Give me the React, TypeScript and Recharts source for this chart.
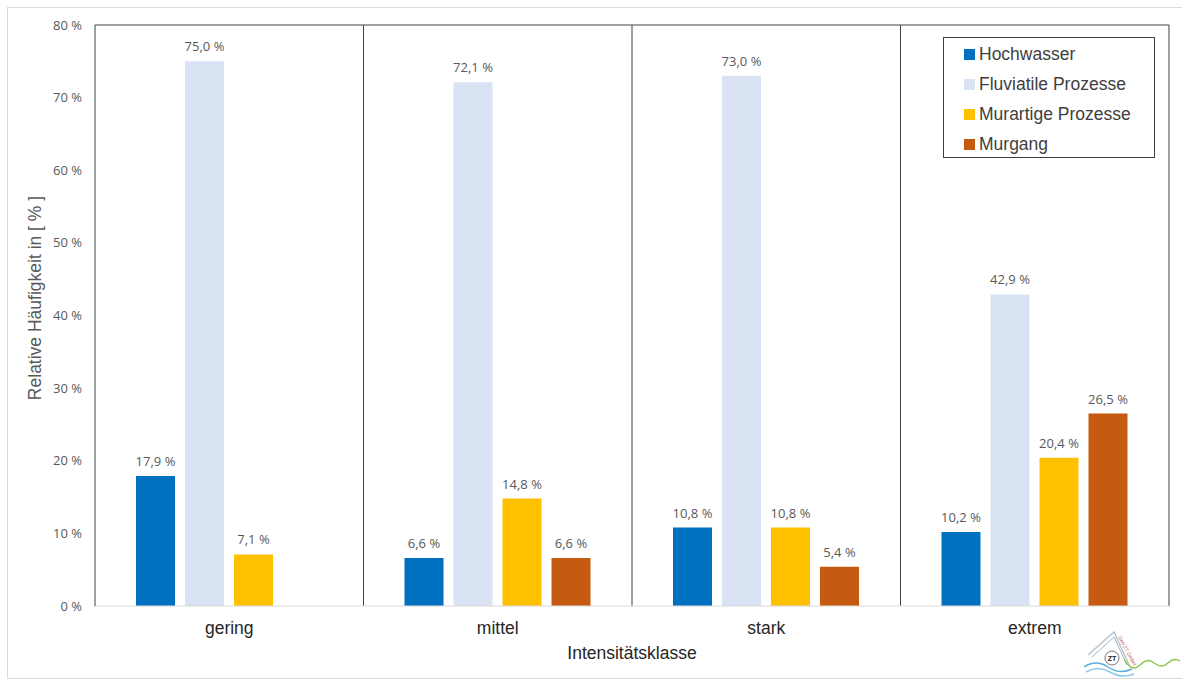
import React from 'react';
import {
  BarChart,
  Bar,
  XAxis,
  YAxis,
  Legend,
  LabelList,
  ReferenceLine,
} from 'recharts';

const categories = ['gering', 'mittel', 'stark', 'extrem'];
const hochwasser = [17.9, 6.6, 10.8, 10.2];
const fluviatil = [75.0, 72.1, 73.0, 42.9];
const murartig = [7.1, 14.8, 10.8, 20.4];
const murgang: (number | null)[] = [null, 6.6, 5.4, 26.5];
const yTicks = [0, 10, 20, 30, 40, 50, 60, 70, 80];

const series = [
  { key: 'hochwasser', name: 'Hochwasser', color: '#0070C0' },
  { key: 'fluviatil', name: 'Fluviatile Prozesse', color: '#DAE3F3' },
  { key: 'murartig', name: 'Murartige Prozesse', color: '#FFC000' },
  { key: 'murgang', name: 'Murgang', color: '#C55A11' },
];

const data = categories.map((name, i) => ({
  name,
  hochwasser: hochwasser[i],
  fluviatil: fluviatil[i],
  murartig: murartig[i],
  murgang: murgang[i],
}));

const DARK = '#404040';
const TICK_FONT = '"Open Sans", Calibri, sans-serif';
const TEXT_FONT = '"Liberation Sans", Arial, sans-serif';

const fmt = (v: any) =>
  v === null || v === undefined ? '' : Number(v).toFixed(1).replace('.', ',') + ' %';

// value label drawn as plain svg text so it does not wrap to the bar width
const renderValue = (props: any) => {
  const { x, y, width, value } = props;
  if (value === null || value === undefined) return null;
  return (
    <text
      x={Number(x) + Number(width) / 2}
      y={Number(y) - 10}
      textAnchor="middle"
      fill="#595959"
      fontSize={13}
      fontFamily={TICK_FONT}
    >
      {fmt(value)}
    </text>
  );
};

const renderLegend = () => (
  <div
    style={{
      position: 'relative',
      width: 212,
      height: 121,
      boxSizing: 'border-box',
      border: `1px solid ${DARK}`,
      background: '#fff',
      fontFamily: TEXT_FONT,
      fontSize: 17.5,
      color: '#404040',
    }}
  >
    {series.map((s, i) => (
      <div
        key={s.key}
        style={{
          position: 'absolute',
          left: 20,
          top: 1 + i * 30,
          height: 30,
          display: 'flex',
          alignItems: 'center',
          whiteSpace: 'nowrap',
        }}
      >
        <span style={{ width: 11, height: 11, background: s.color, marginRight: 4, display: 'inline-block' }} />
        <span>{s.name}</span>
      </div>
    ))}
  </div>
);

const Logo = () => (
  <svg width={102} height={54} style={{ position: 'absolute', left: 1080, top: 625 }}>
    <path d="M8 30 L34 7 L50 42" fill="none" stroke="#b8c4cc" strokeWidth={1.5} />
    <path d="M12 32 L34 12 L47 40" fill="none" stroke="#9fb5c8" strokeWidth={1} />
    <path d="M4 42 Q16 34 28 42 T52 44" fill="none" stroke="#5aaed8" strokeWidth={1.5} />
    <path d="M6 47 Q18 40 30 47 T54 49" fill="none" stroke="#8cc8e8" strokeWidth={1.5} />
    <path d="M44 34 Q52 48 60 40 T74 38 Q82 44 88 38 T100 36" fill="none" stroke="#8cc850" strokeWidth={1.5} />
    <circle cx={32} cy={33} r={7} fill="#fff" stroke="#777" strokeWidth={1} />
    <text x={32} y={36} textAnchor="middle" fontSize={7} fontWeight="bold" fontFamily={TEXT_FONT} fill="#222">
      ZT
    </text>
    <text
      x={38}
      y={12}
      fontSize={5}
      fontFamily={TEXT_FONT}
      fill="#c0504d"
      transform="rotate(62 38 12)"
    >
      Geo ZT GmbH
    </text>
  </svg>
);

export default function App() {
  return (
    <div style={{ position: 'absolute', left: 0, top: 0, width: 1182, height: 679, background: '#fff' }}>
      <div
        style={{
          position: 'absolute',
          left: 7,
          top: 7,
          width: 1180,
          height: 670,
          border: '1px solid #d9d9d9',
        }}
      />
      <div style={{ position: 'absolute', left: 0, top: 0 }}>
        <BarChart
          width={1182}
          height={679}
          data={data}
          margin={{ top: 25, right: 13, left: 0, bottom: 20 }}
          barSize={39}
          barGap={10}
        >
          <XAxis
            dataKey="name"
            axisLine={{ stroke: '#d9d9d9', strokeWidth: 1 }}
            tickLine={false}
            tickSize={0}
            tickMargin={16}
            height={53}
            tick={{ fill: '#262626', fontSize: 17.5, fontFamily: TEXT_FONT }}
            label={{
              value: 'Intensitätsklasse',
              position: 'insideBottom',
              offset: 0,
              fill: '#262626',
              fontSize: 17.5,
              fontFamily: TEXT_FONT,
            }}
          />
          <YAxis
            width={95}
            domain={[0, 80]}
            ticks={yTicks}
            interval={0}
            tickFormatter={(v) => `${v} %`}
            axisLine={{ stroke: DARK, strokeWidth: 1 }}
            tickLine={false}
            tickSize={0}
            tickMargin={13}
            tick={{ fill: '#595959', fontSize: 13, fontFamily: TICK_FONT }}
            label={{
              value: 'Relative Häufigkeit in [ % ]',
              angle: -90,
              position: 'center',
              dx: -12.5,
              dy: -17.5,
              fill: '#595959',
              fontSize: 17.5,
              fontFamily: TEXT_FONT,
            }}
          />
          <ReferenceLine y={80} stroke={DARK} strokeWidth={1} />
          {categories.slice(1).map((c) => (
            <ReferenceLine key={c} x={c} position="start" stroke={DARK} strokeWidth={1} />
          ))}
          <ReferenceLine x={categories[categories.length - 1]} position="end" stroke={DARK} strokeWidth={1} />
          <Legend
            content={renderLegend}
            layout="horizontal"
            verticalAlign="middle"
            align="center"
            wrapperStyle={{ position: 'absolute', left: 943, top: 37, width: 212, height: 121 }}
          />
          {series.map((s) => (
            <Bar key={s.key} dataKey={s.key} name={s.name} fill={s.color} isAnimationActive={false}>
              <LabelList dataKey={s.key} content={renderValue} />
            </Bar>
          ))}
        </BarChart>
      </div>
      <Logo />
    </div>
  );
}
